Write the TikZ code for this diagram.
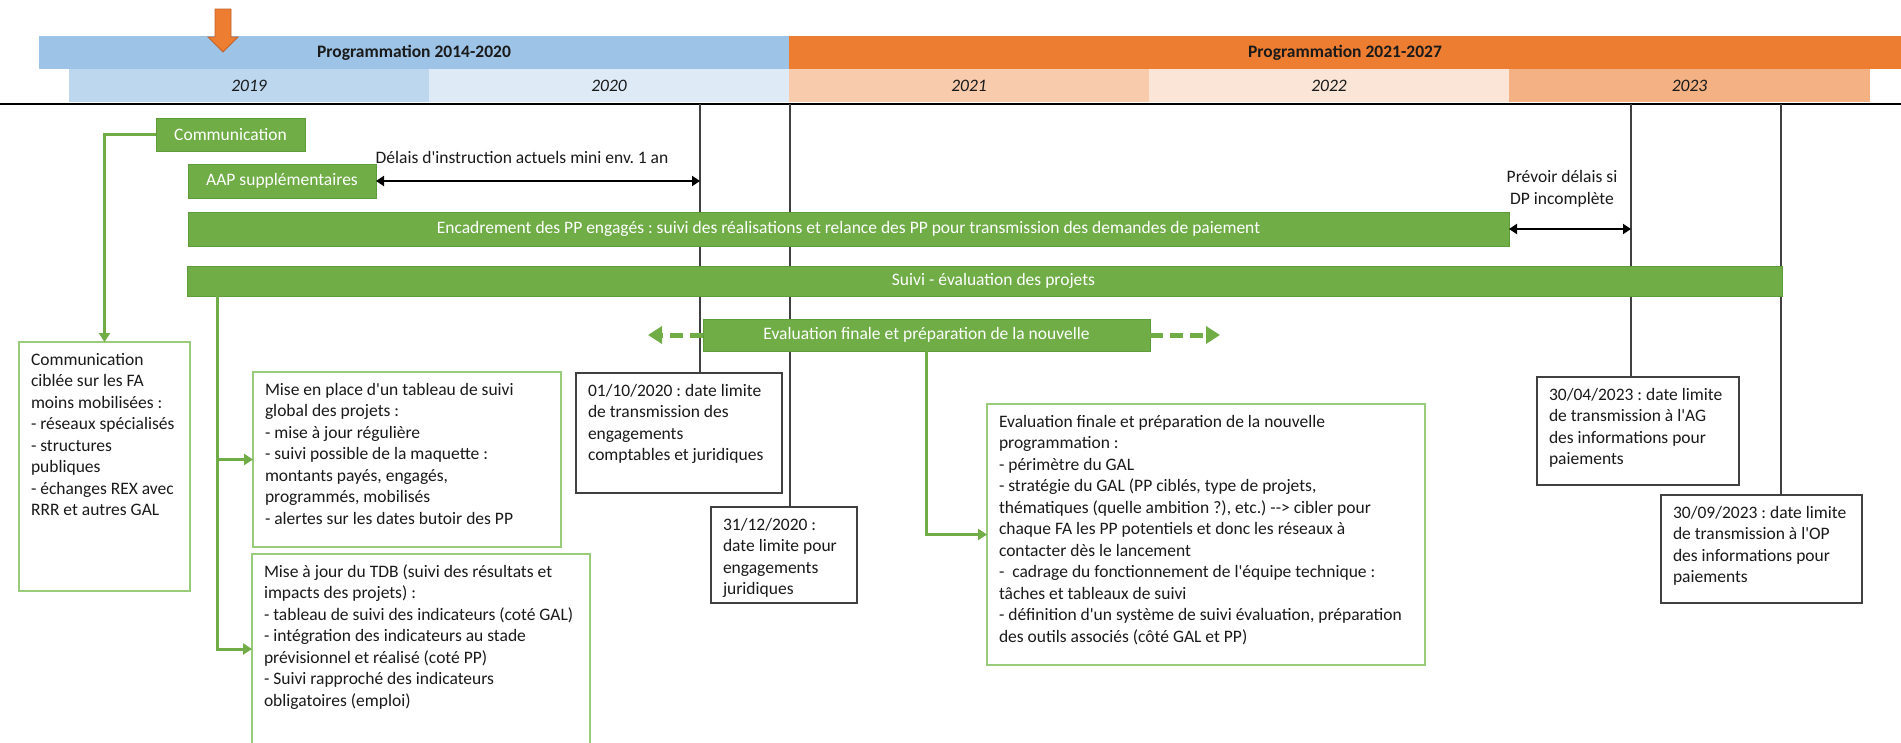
\documentclass[tikz,border=0pt]{standalone}
\usepackage{fontspec}
\setmainfont{Carlito}[Ligatures=TeXOff]
\usetikzlibrary{arrows.meta}
\frenchspacing
\definecolor{gbar}{HTML}{70AD47}
\definecolor{gbarb}{HTML}{5E9B3B}
\definecolor{gline}{HTML}{70AD47}
\definecolor{gboxb}{HTML}{9ACB7A}
\definecolor{kboxb}{HTML}{404040}
\definecolor{blueband}{HTML}{9DC3E6}
\definecolor{blueA}{HTML}{BDD7EE}
\definecolor{blueB}{HTML}{DEEBF7}
\definecolor{orband}{HTML}{ED7D31}
\definecolor{orA}{HTML}{F8CBAD}
\definecolor{orB}{HTML}{FBE5D6}
\definecolor{orC}{HTML}{F4B183}
\definecolor{orarrowb}{HTML}{C0622A}
\definecolor{txt}{HTML}{1A1A1A}
\newcommand\bxt[3]{\parbox[c][#2pt][t]{#1pt}{\frenchspacing\begin{tabular}[t]{@{}l@{}}#3\end{tabular}}}
\begin{document}
\begin{tikzpicture}[x=1pt,y=-1pt, font=\fontsize{17.5}{21.5}\selectfont\frenchspacing, text=txt,
  band/.style={anchor=north west, inner sep=0pt, outer sep=0pt, minimum height=33pt, font=\fontsize{17.5}{21.5}\selectfont\bfseries},
  yearcell/.style={anchor=north west, inner sep=0pt, outer sep=0pt, minimum height=33pt, minimum width=360pt, font=\fontsize{17.5}{21.5}\selectfont\itshape},
  bar/.style={anchor=north west, fill=gbar, draw=gbarb, line width=0.8pt, text=white, inner sep=0pt, outer sep=0pt},
  gbox/.style={anchor=north west, draw=gboxb, line width=1.5pt, fill=white, inner xsep=12pt, inner ysep=8pt, outer sep=0pt},
  kbox/.style={anchor=north west, draw=kboxb, line width=1.5pt, fill=white, inner xsep=12pt, inner ysep=8pt, outer sep=0pt},
  vline/.style={draw=kboxb, line width=1.2pt},
  glink/.style={draw=gline, line width=3pt, -{Triangle[length=9pt,width=11pt]}},
  dbl/.style={draw=black, line width=2.5pt, {Triangle[length=8pt,width=10pt]}-{Triangle[length=8pt,width=10pt]}},
  dasharr/.style={draw=gline, line width=5pt, dash pattern=on 13pt off 7pt, -{Triangle[length=14pt,width=17pt]}},
]
\fill[white] (0,0) rectangle (1901,742);
\useasboundingbox (0,0) rectangle (1901,742);
\clip (0,0) rectangle (1901,742);

% header bands
\node[band, fill=blueband, minimum width=750pt] (p1) at (39,36) {Programmation 2014-2020};
\node[band, fill=orband, minimum width=1112pt] (p2) at (789,36) {Programmation 2021-2027};
\node[yearcell, fill=blueA] (y19) at (69,69) {2019};
\node[yearcell, fill=blueB] (y20) at (429,69) {2020};
\node[yearcell, fill=orA] (y21) at (789,69) {2021};
\node[yearcell, fill=orB] (y22) at (1149,69) {2022};
\node[yearcell, fill=orC, minimum width=361pt] (y23) at (1509,69) {2023};
\filldraw[fill=orband, draw=orarrowb, line width=0.8pt] (215,9) -- (231,9) -- (231,37) -- (238,37) -- (223,52) -- (208,37) -- (215,37) -- cycle;

% rule
\coordinate (r0) at (0,104);
\coordinate (r1) at (1901,104);
\draw[line width=2pt, black] (r0) -- (r1);

% date boxes
\node[kbox] (d1) at (576,373) {\bxt{182}{104}{01/10/2020 : date limite\\de transmission des\\engagements\\comptables et juridiques}};
\node[kbox] (d2) at (711,507) {\bxt{122}{80}{31/12/2020 :\\date limite pour\\engagements\\juridiques}};
\node[kbox] (d3) at (1537,377) {\bxt{178}{92}{30/04/2023 : date limite\\de transmission à l'AG\\des informations pour\\paiements}};
\node[kbox] (d4) at (1661,495) {\bxt{177}{92}{30/09/2023 : date limite\\de transmission à l'OP\\des informations pour\\paiements}};

% vertical lines
\coordinate (l1) at (700,104);
\coordinate (l2) at (790,104);
\coordinate (l3) at (1631,104);
\coordinate (l4) at (1781,104);
\draw[vline] (l1) -- (l1 |- d1.north);
\draw[vline] (l2) -- (l2 |- d2.north);
\draw[vline] (l3) -- (l3 |- d3.north);
\draw[vline] (l4) -- (l4 |- d4.north);

% green bars
\node[bar, minimum width=149pt, minimum height=33pt] (comm) at (156,118) {Communication};
\node[bar, minimum width=188pt, minimum height=34pt] (aap) at (188,164) {AAP supplémentaires};
\node[bar, minimum width=1321pt, minimum height=34pt] (encad) at (188,212) {Encadrement des PP engagés : suivi des réalisations et relance des PP pour transmission des demandes de paiement};
\node[bar, minimum width=1595pt, minimum height=30pt] (suivi) at (187,266) {\hspace*{18pt}Suivi - évaluation des projets};
\node[bar, minimum width=447pt, minimum height=32pt] (evalbar) at (703,319) {Evaluation finale et préparation de la nouvelle};

% text boxes
\node[gbox] (commbox) at (19,342) {\bxt{147}{233}{Communication\\ciblée sur les FA\\moins mobilisées :\\- réseaux spécialisés\\- structures\\publiques\\- échanges REX avec\\RRR et autres GAL}};
\node[gbox] (misebox) at (253,372) {\bxt{284}{159}{Mise en place d'un tableau de suivi\\global des projets :\\- mise à jour régulière\\- suivi possible de la maquette :\\montants payés, engagés,\\programmés, mobilisés\\- alertes sur les dates butoir des PP}};
\node[gbox] (majbox) at (252,554) {\bxt{314}{174}{Mise à jour du TDB (suivi des résultats et\\impacts des projets) :\\- tableau de suivi des indicateurs (coté GAL)\\- intégration des indicateurs au stade\\prévisionnel et réalisé (coté PP)\\- Suivi rapproché des indicateurs\\obligatoires (emploi)}};
\node[gbox] (evalbox) at (987,404) {\bxt{414}{245}{Evaluation finale et préparation de la nouvelle\\programmation :\\- périmètre du GAL\\- stratégie du GAL (PP ciblés, type de projets,\\thématiques (quelle ambition ?), etc.) --> cibler pour\\chaque FA les PP potentiels et donc les réseaux à\\contacter dès le lancement\\-\ \ cadrage du fonctionnement de l'équipe technique :\\tâches et tableaux de suivi\\- définition d'un système de suivi évaluation, préparation\\des outils associés (côté GAL et PP)}};

% double arrows and labels
\coordinate (a1) at (aap.east -| l1);
\draw[dbl] (aap.east) -- (a1);
\node (dlab) at (522,157) {Délais d'instruction actuels mini env. 1 an};
\coordinate (a2) at (encad.east -| l3);
\draw[dbl] (encad.east) -- (a2);
\node[align=center] (plab) at (1562,189) {Prévoir délais si\\DP incomplète};

% green connectors
\draw[glink] (comm.west) -| (commbox.north);
\coordinate (sv) at ([xshift=30pt]suivi.south west);
\draw[glink] (sv) |- (majbox.west);
\draw[glink] (sv |- misebox.west) -- (misebox.west);
\draw[glink] (evalbar.south) |- (evalbox.west);

% dashed arrows
\coordinate (eL) at ([xshift=-55pt]evalbar.west);
\coordinate (eR) at ([xshift=70pt]evalbar.east);
\draw[dasharr] (evalbar.west) -- (eL);
\draw[dasharr] (evalbar.east) -- (eR);
\end{tikzpicture}
\end{document}
